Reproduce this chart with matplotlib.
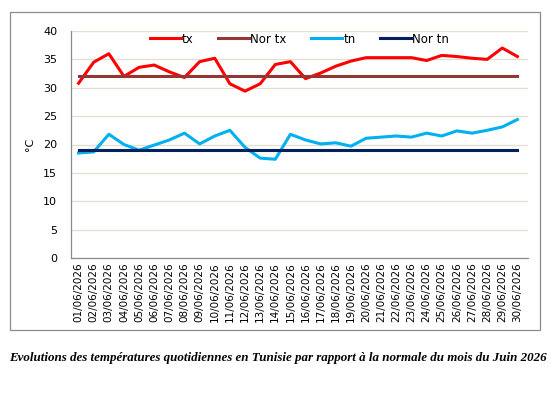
import matplotlib.pyplot as plt
from matplotlib.patches import Rectangle

# Daily values, June 2026
dates = ['%02d/06/2026' % d for d in range(1, 31)]
tx = [30.8, 34.5, 36.0, 32.0, 33.6, 34.0, 32.8, 31.8, 34.6, 35.2,
      30.7, 29.4, 30.7, 34.1, 34.6, 31.6, 32.6, 33.8, 34.7, 35.3,
      35.3, 35.3, 35.3, 34.8, 35.7, 35.5, 35.2, 35.0, 37.0, 35.5]
tn = [18.5, 18.7, 21.8, 20.0, 19.0, 19.9, 20.8, 22.0, 20.1, 21.5,
      22.5, 19.5, 17.6, 17.4, 21.8, 20.8, 20.1, 20.3, 19.7, 21.1,
      21.3, 21.5, 21.3, 22.0, 21.5, 22.4, 22.0, 22.5, 23.1, 24.4]
nor_tx = [32.0] * 30
nor_tn = [19.0] * 30
yticks = [0, 5, 10, 15, 20, 25, 30, 35, 40]

fig = plt.figure(figsize=(5.55, 3.97), dpi=100)
ax = fig.add_axes([71 / 555, 1 - 258 / 397, (528 - 71) / 555, (258 - 31) / 397])

x = range(len(dates))
ax.plot(x, tx, color='#ff0000', lw=2.2, label='tx')
ax.plot(x, nor_tx, color='#943634', lw=2.2, label='Nor tx')
ax.plot(x, tn, color='#00b0f0', lw=2.2, label='tn')
ax.plot(x, nor_tn, color='#002060', lw=2.2, label='Nor tn')

ax.set_ylim(0, 40)
ax.set_yticks(yticks)
ax.set_xlim(-0.5, len(dates) - 0.5 + 0.2)
ax.set_xticks(list(x))
ax.set_xticklabels(dates, rotation=90, fontsize=7.5)
ax.tick_params(axis='y', labelsize=8, length=0, pad=10)
ax.tick_params(axis='x', length=0, pad=3)
ax.grid(axis='y', color='#e3dfd0', lw=0.9)
ax.set_axisbelow(True)
for s in ['top', 'right']:
    ax.spines[s].set_visible(False)
for s in ['left', 'bottom']:
    ax.spines[s].set_color('#8c8c8c')
    ax.spines[s].set_linewidth(0.9)

ax.set_ylabel('°C', fontsize=8, rotation=90)
ax.yaxis.set_label_coords(-0.079, 0.5)

ax.legend(loc='upper center', ncol=4, frameon=False, fontsize=8.5,
          bbox_to_anchor=(0.5, 1.04), handlelength=2.6, columnspacing=2.1,
          handletextpad=0.1)

# outer chart border
fig.patches.append(Rectangle((10 / 555, 1 - 330 / 397), 530 / 555, 318 / 397,
                             transform=fig.transFigure, fill=False,
                             edgecolor='#8c8c8c', lw=0.9))

fig.text(0.5, 1 - 358 / 397,
         'Evolutions des températures quotidiennes en Tunisie par rapport à la normale du mois du Juin 2026',
         ha='center', va='center', fontsize=9.4, family='Liberation Serif',
         style='italic', weight='bold')

fig.savefig('out.png', dpi=100)
